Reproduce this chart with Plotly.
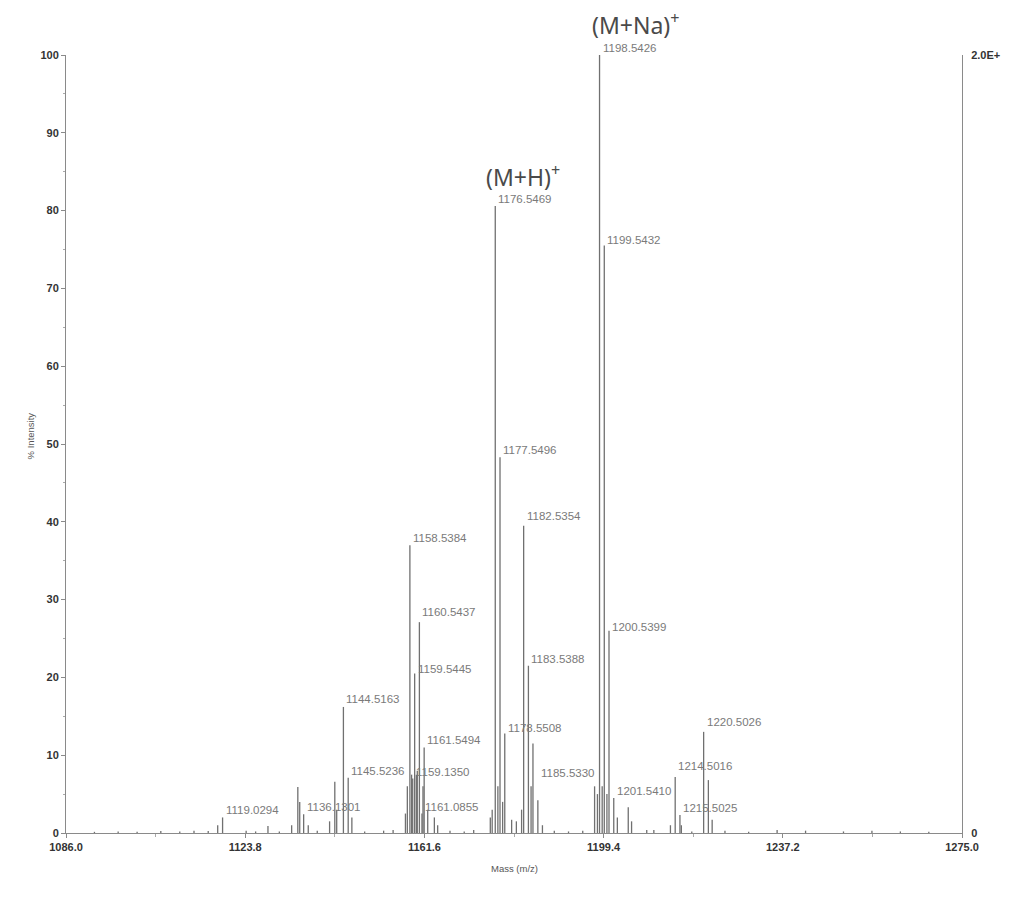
import plotly.graph_objects as go

# Labelled peaks: m/z and relative intensity (%)
labeled_mz = [1119.0294, 1136.1301, 1144.5163, 1145.5236, 1158.5384, 1159.1350,
              1159.5445, 1160.5437, 1161.0855, 1161.5494, 1176.5469, 1177.5496,
              1178.5508, 1182.5354, 1183.5388, 1185.5330, 1198.5426, 1199.5432,
              1200.5399, 1201.5410, 1214.5016, 1215.5025, 1220.5026]
labeled_int = [2.0, 2.4, 16.2, 7.1, 37.0, 7.0,
               20.5, 27.1, 2.5, 11.0, 80.6, 48.3,
               12.8, 39.5, 21.5, 4.2, 100.0, 75.5,
               26.0, 4.5, 7.2, 2.3, 13.0]

# Unlabelled peaks and baseline noise
other_mz = [1092.0, 1097.0, 1101.0, 1106.0, 1110.0, 1113.0, 1116.0, 1118.0,
            1124.0, 1126.0, 1128.6, 1131.0, 1133.6, 1134.9, 1135.3, 1137.1,
            1139.0, 1141.6, 1142.7, 1143.1, 1146.3, 1149.0, 1153.0, 1155.0,
            1157.6, 1158.0, 1158.9, 1159.9, 1160.1, 1161.3, 1162.3, 1163.7,
            1164.4, 1167.0, 1170.0, 1172.0, 1175.5, 1175.9, 1177.1, 1178.1,
            1180.0, 1181.0, 1182.1, 1184.1, 1184.5, 1186.5, 1189.0, 1192.0,
            1195.0, 1197.5, 1198.1, 1199.1, 1200.1, 1202.3, 1204.6, 1205.3,
            1208.5, 1210.0, 1213.5, 1215.8, 1218.0, 1221.5, 1222.3, 1225.0,
            1230.0, 1236.0, 1242.0, 1250.0, 1256.0, 1262.0, 1268.0]
other_int = [0.15, 0.2, 0.15, 0.25, 0.2, 0.3, 0.25, 1.0,
             0.3, 0.2, 0.9, 0.2, 1.0, 5.9, 4.0, 1.0,
             0.3, 1.5, 6.6, 3.0, 2.0, 0.2, 0.3, 0.4,
             2.5, 6.0, 7.5, 7.5, 8.0, 6.0, 3.0, 2.0,
             1.0, 0.3, 0.2, 0.4, 2.0, 3.0, 6.0, 4.0,
             1.7, 1.5, 3.0, 6.0, 11.5, 1.0, 0.3, 0.2,
             0.3, 6.0, 5.0, 6.0, 5.0, 2.0, 3.3, 1.5,
             0.4, 0.4, 1.0, 1.0, 0.2, 6.8, 1.7, 0.3,
             0.15, 0.4, 0.3, 0.2, 0.3, 0.2, 0.15]

x_ticks = [1086.0, 1123.8, 1161.6, 1199.4, 1237.2, 1275.0]
y_ticks = [0, 10, 20, 30, 40, 50, 60, 70, 80, 90, 100]

# vertical offset (px) of each peak label above its apex
label_lift = {1144.5163: 8, 1160.5437: 10, 1182.5354: 10, 1185.5330: 27,
              1200.5399: 4, 1214.5016: 11, 1220.5026: 10, 1159.5445: 5,
              1178.5508: 5, 1199.5432: 6}

# stick spectrum
all_mz = labeled_mz + other_mz
all_int = labeled_int + other_int
sx, sy = [], []
for m, h in sorted(zip(all_mz, all_int)):
    sx += [m, m, None]
    sy += [0, h, None]

fig = go.Figure()
fig.add_trace(go.Scatter(x=sx, y=sy, mode="lines",
                         line=dict(color="#707070", width=1.3),
                         hoverinfo="skip", showlegend=False))
# carrier for the absolute-count axis on the right
fig.add_trace(go.Scatter(x=[x_ticks[0]], y=[0], yaxis="y2", mode="markers",
                         marker=dict(opacity=0), showlegend=False, hoverinfo="skip"))

label_font = dict(family="Liberation Sans, Arial, sans-serif", size=11.5, color="#7a7a7a")
annotations = []
for m, h in zip(labeled_mz, labeled_int):
    annotations.append(dict(x=m, y=h, xref="x", yref="y", text=f"{m:.4f}",
                            showarrow=False, xanchor="left", yanchor="middle",
                            xshift=1, yshift=label_lift.get(m, 7), font=label_font))

ion_font = dict(family="Noto Sans, DejaVu Sans, sans-serif", size=23, color="#4a4a4a")
annotations.append(dict(x=1198.5426, y=100.0, xref="x", yref="y",
                        text="(M+Na)<sup>+</sup>", showarrow=False,
                        xanchor="left", yanchor="middle", xshift=-10, yshift=31,
                        font=ion_font))
annotations.append(dict(x=1176.5469, y=80.6, xref="x", yref="y",
                        text="(M+H)<sup>+</sup>", showarrow=False,
                        xanchor="left", yanchor="middle", xshift=-11, yshift=30,
                        font=ion_font))

title_font = dict(family="Liberation Sans, Arial, sans-serif", size=9.5, color="#555555")
annotations.append(dict(x=-0.04, y=0.51, xref="paper", yref="paper",
                        text="% Intensity", textangle=-90, showarrow=False,
                        xanchor="center", yanchor="middle", font=title_font))
annotations.append(dict(x=0.50, y=-0.045, xref="paper", yref="paper",
                        text="Mass (m/z)", showarrow=False,
                        xanchor="center", yanchor="middle", font=title_font))

tick_font = dict(family="Liberation Sans, Arial, sans-serif", size=11, color="#333333",
                 weight="bold")

fig.update_layout(
    width=1011, height=898,
    margin=dict(l=66, r=49, t=55, b=65),
    paper_bgcolor="white", plot_bgcolor="white",
    annotations=annotations,
    xaxis=dict(range=[1086.0, 1275.0], tickvals=x_ticks,
               ticktext=[f"{v:.1f}" for v in x_ticks],
               showgrid=False, zeroline=False, showline=True,
               linecolor="#8a8a8a", linewidth=1,
               ticks="outside", ticklen=4, tickcolor="#8a8a8a",
               minor=dict(dtick=18.9, tick0=1086.0, ticks="outside", ticklen=3,
                          tickcolor="#aaaaaa", showgrid=False),
               tickfont=tick_font),
    yaxis=dict(range=[0, 100], tickvals=y_ticks,
               showgrid=False, zeroline=False, showline=True,
               linecolor="#8a8a8a", linewidth=1,
               ticks="outside", ticklen=4, tickcolor="#8a8a8a",
               minor=dict(dtick=5, tick0=0, ticks="outside", ticklen=2,
                          tickcolor="#aaaaaa", showgrid=False),
               tickfont=tick_font),
    yaxis2=dict(overlaying="y", side="right", range=[0, 20000],
                tickvals=[0, 20000], ticktext=["0", "2.0E+"],
                showgrid=False, zeroline=False, showline=True,
                linecolor="#8a8a8a", linewidth=1, ticks="",
                ticklabelstandoff=6, tickfont=tick_font),
)

fig.write_html("out.html")
